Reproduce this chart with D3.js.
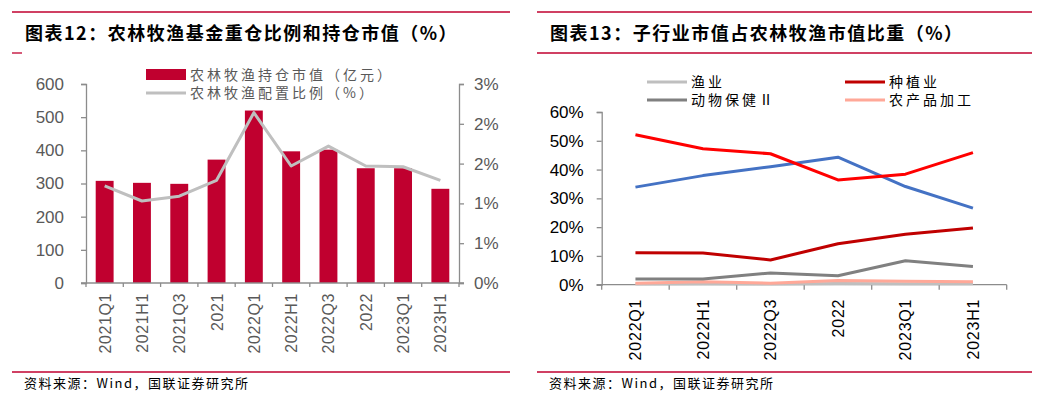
<!DOCTYPE html>
<html>
<head>
<meta charset="utf-8">
<script src="https://cdn.jsdelivr.net/npm/d3@7"></script>
<style>
  body { margin: 0; background: #fff; }
  svg { display: block; }
  text { font-family: "Liberation Sans", Arial, sans-serif; }
  .cjk { font-family: "Noto Sans CJK SC", sans-serif; }
  .title { font-size: 18px; font-weight: bold; fill: #000; letter-spacing: 1.5px; }
  .note { font-size: 13px; fill: #000; letter-spacing: 1.5px; }
</style>
</head>
<body>
<svg id="chart" width="1045" height="399"></svg>
<script>
// ---- left chart data ----
const periodsA = ["2021Q1","2021H1","2021Q3","2021","2022Q1","2022H1","2022Q3","2022","2023Q1","2023H1"];
const holdValue = [308, 302, 299, 372, 520, 397, 402, 346, 346, 284];      // 亿元
const allocRatio = [1.22, 1.03, 1.09, 1.29, 2.14, 1.47, 1.72, 1.47, 1.46, 1.29]; // %
const leftTicks = [0, 100, 200, 300, 400, 500, 600];
const rightTicks = [0, 0.5, 1.0, 1.5, 2.0, 2.5];

// ---- right chart data ----
const periodsB = ["2022Q1","2022H1","2022Q3","2022","2023Q1","2023H1"];
const seriesNames = ["渔业", "农产品加工", "动物保健Ⅱ", "种植业", "series5", "series6"];
const fishery   = [0.2, 0.3, 0.2, 0.4, 0.3, 0.3];
const processing = [0.5, 1.0, 0.5, 1.5, 1.2, 1.0];
const animalHealth = [2.0, 2.0, 4.1, 3.1, 8.3, 6.3];
const planting  = [11.1, 11.0, 8.6, 14.2, 17.5, 19.7];
const seriesBlue = [33.9, 37.9, 41.0, 44.3, 34.1, 26.6];
const seriesRed  = [52.1, 47.2, 45.5, 36.4, 38.4, 45.9];
const shareTicks = [0, 10, 20, 30, 40, 50, 60];
const legendB = ["渔业", "种植业", "动物保健Ⅱ", "农产品加工"];

const svg = d3.select("#chart");
const red = "#C0002F";
const axisCol = "#8c8c8c";

// frame lines and titles
function frame(x0, x1, title, short) {
  svg.append("line").attr("x1", x0).attr("x2", x1).attr("y1", 12).attr("y2", 12)
    .attr("stroke", red).attr("stroke-width", 1.3);
  svg.append("line").attr("x1", x0).attr("x2", short ? x0 + 10 : x1).attr("y1", 53).attr("y2", 53)
    .attr("stroke", red).attr("stroke-width", 1.3);
  svg.append("text").attr("class", "cjk title").attr("x", x0 + 13).attr("y", 40).text(title);
  svg.append("line").attr("x1", x0).attr("x2", x1).attr("y1", 372).attr("y2", 372)
    .attr("stroke", red).attr("stroke-width", 1.3);
  svg.append("text").attr("class", "cjk note").attr("x", x0 + 12).attr("y", 388)
    .text("资料来源：Wind，国联证券研究所");
}
frame(12, 510, "图表12：农林牧渔基金重仓比例和持仓市值（%）", true);
frame(537, 1032, "图表13：子行业市值占农林牧渔市值比重（%）", false);

// ================= left chart =================
(function () {
  const g = svg.append("g");
  const x = d3.scaleBand().domain(periodsA).range([86, 459]).paddingInner(0.52).paddingOuter(0.26);
  const yL = d3.scaleLinear().domain([0, 600]).range([283, 84]);
  const yR = d3.scaleLinear().domain([0, 2.5]).range([283, 84]);

  g.selectAll("rect.bar").data(holdValue).enter().append("rect")
    .attr("class", "bar")
    .attr("x", (d, i) => x(periodsA[i]))
    .attr("width", x.bandwidth())
    .attr("y", d => yL(d))
    .attr("height", d => yL(0) - yL(d))
    .attr("fill", red);

  const line = d3.line()
    .x((d, i) => x(periodsA[i]) + x.bandwidth() / 2)
    .y(d => yR(d));
  g.append("path").datum(allocRatio).attr("d", line)
    .attr("fill", "none").attr("stroke", "#BFBFBF").attr("stroke-width", 3)
    .attr("stroke-linejoin", "round");

  // left axis
  const ax = g.append("g").attr("transform", "translate(86,0)")
    .call(d3.axisLeft(yL).tickValues(leftTicks).tickSize(5).tickPadding(17));
  // right axis
  const ar = g.append("g").attr("transform", "translate(459,0)")
    .call(d3.axisRight(yR).tickValues(rightTicks).tickSize(5).tickPadding(10)
      .tickFormat(d => d3.format(".0f")(d + 1e-9) + "%"));
  // bottom axis, ticks at category boundaries
  const xb = g.append("g").attr("transform", "translate(0,283)");
  xb.append("line").attr("x1", 81).attr("x2", 464).attr("stroke", axisCol).attr("stroke-width", 1.3);
  const bounds = d3.range(periodsA.length + 1).map(i => 86 + i * x.step());
  xb.selectAll("line.tk").data(bounds).enter().append("line").attr("class", "tk")
    .attr("x1", d => d).attr("x2", d => d).attr("y1", 0).attr("y2", 4)
    .attr("stroke", axisCol).attr("stroke-width", 1.3);
  xb.selectAll("text").data(periodsA).enter().append("text")
    .attr("transform", d => `translate(${x(d) + x.bandwidth() / 2 + 6},10) rotate(-90)`)
    .attr("text-anchor", "end")
    .attr("font-size", 16).attr("letter-spacing", 0.6).attr("fill", "#595959")
    .text(d => d);

  [ax, ar].forEach(a => {
    a.select(".domain").attr("stroke", axisCol).attr("stroke-width", 1.3);
    a.selectAll(".tick line").attr("stroke", axisCol).attr("stroke-width", 1.3);
    a.selectAll(".tick text").attr("font-size", 17).attr("fill", "#595959")
      .attr("font-family", "Liberation Sans, Arial, sans-serif");
  });

  // legend
  const lg = g.append("g");
  lg.append("rect").attr("x", 146).attr("y", 69).attr("width", 40).attr("height", 11).attr("fill", red);
  lg.append("line").attr("x1", 146).attr("x2", 186).attr("y1", 93).attr("y2", 93)
    .attr("stroke", "#BFBFBF").attr("stroke-width", 3);
  lg.append("text").attr("class", "cjk").attr("x", 190).attr("y", 80)
    .attr("font-size", 14).attr("letter-spacing", 3).attr("fill", "#595959").text("农林牧渔持仓市值（亿元）");
  lg.append("text").attr("class", "cjk").attr("x", 190).attr("y", 98)
    .attr("font-size", 14).attr("letter-spacing", 3).attr("fill", "#595959").text("农林牧渔配置比例（%）");
})();

// ================= right chart =================
(function () {
  const g = svg.append("g");
  const x = d3.scaleBand().domain(periodsB).range([601.7, 1006.7]);
  const y = d3.scaleLinear().domain([0, 60]).range([284.7, 112]);

  const series = [
    { name: "渔业", values: fishery, color: "#BFBFBF" },
    { name: "农产品加工", values: processing, color: "#FFA898" },
    { name: "动物保健Ⅱ", values: animalHealth, color: "#808080" },
    { name: "种植业", values: planting, color: "#C00000" },
    { name: seriesNames[4], values: seriesBlue, color: "#4472C4" },
    { name: seriesNames[5], values: seriesRed, color: "#FF0000" }
  ];
  const colorOf = d3.scaleOrdinal().domain(series.map(s => s.name)).range(series.map(s => s.color));

  // axes
  const ay = g.append("g").attr("transform", "translate(601.7,0)")
    .call(d3.axisLeft(y).tickValues(shareTicks).tickSize(5).tickPadding(13).tickFormat(d => d + "%"));
  ay.select(".domain").attr("stroke", axisCol).attr("stroke-width", 1.3);
  ay.selectAll(".tick line").attr("stroke", axisCol).attr("stroke-width", 1.3);
  ay.selectAll(".tick text").attr("font-size", 17).attr("fill", "#000")
    .attr("font-family", "Liberation Sans, Arial, sans-serif");

  const xb = g.append("g").attr("transform", "translate(0,284.7)");
  xb.append("line").attr("x1", 596.7).attr("x2", 1006.7).attr("stroke", axisCol).attr("stroke-width", 1.3);
  const bounds = d3.range(periodsB.length + 1).map(i => 601.7 + i * x.step());
  xb.selectAll("line.tk").data(bounds).enter().append("line").attr("class", "tk")
    .attr("x1", d => d).attr("x2", d => d).attr("y1", 0).attr("y2", 5)
    .attr("stroke", axisCol).attr("stroke-width", 1.3);
  xb.selectAll("text").data(periodsB).enter().append("text")
    .attr("transform", d => `translate(${x(d) + x.bandwidth() / 2 + 6},14) rotate(-90)`)
    .attr("text-anchor", "end")
    .attr("font-size", 16).attr("letter-spacing", 0.8).attr("fill", "#000")
    .text(d => d);

  const line = d3.line()
    .x((d, i) => x(periodsB[i]) + x.bandwidth() / 2)
    .y(d => y(d));
  g.selectAll("path.ser").data(series).enter().append("path")
    .attr("class", "ser")
    .attr("d", s => line(s.values))
    .attr("fill", "none")
    .attr("stroke", s => s.color)
    .attr("stroke-width", 3)
    .attr("stroke-linejoin", "round");

  // legend (2 x 2)
  const lg = g.selectAll("g.lg").data(legendB).enter().append("g").attr("class", "lg")
    .attr("transform", (d, i) => `translate(${i % 2 ? 845 : 647},${i < 2 ? 82 : 100})`);
  lg.append("line").attr("x1", 0).attr("x2", 40)
    .attr("stroke", d => colorOf(d)).attr("stroke-width", 3);
  lg.append("text").attr("class", "cjk").attr("x", 44).attr("y", 5)
    .attr("font-size", 14).attr("letter-spacing", 3).attr("fill", "#000").text(d => d);
})();
</script>
</body>
</html>
